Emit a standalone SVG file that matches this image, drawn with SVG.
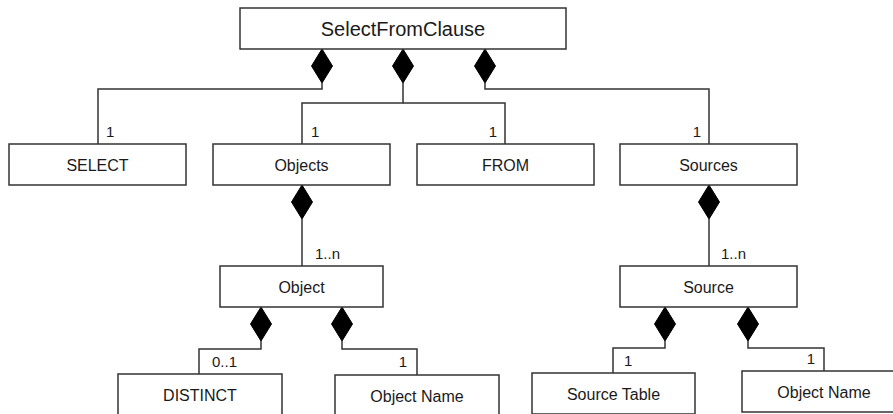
<svg xmlns="http://www.w3.org/2000/svg" width="893" height="414" viewBox="0 0 893 414">
  <style>
    .box { fill: #ffffff; stroke: #333333; stroke-width: 1.5; }
    .lbl { font-family: "Liberation Sans", Arial, sans-serif; font-size: 16px; fill: #1a1a1a; text-anchor: middle; }
    .title { font-size: 20px; }
    .mult { font-family: "Liberation Sans", Arial, sans-serif; font-size: 15px; fill: #1a1a1a; }
    .end { text-anchor: end; }
    .wire { fill: none; stroke: #333333; stroke-width: 1.5; }
    .dia { fill: #000000; stroke: #000000; stroke-width: 1; }
  </style>
  <defs>
    <!-- composition diamond, tip at origin, pointing up -->
    <path id="diamond" class="dia" d="M0,0 L10.5,17 L0,34 L-10.5,17 Z"/>
  </defs>
  <rect width="893" height="414" fill="#ffffff"/>

  <g id="connectors">
    <path class="wire" d="M322,83 V89 H98 V144"/>
    <path class="wire" d="M403,83 V103 H302 V144"/>
    <path class="wire" d="M403,103 H505 V144"/>
    <path class="wire" d="M485,83 V89 H709 V144"/>
    <path class="wire" d="M302,219 V266"/>
    <path class="wire" d="M709,219 V266"/>
    <path class="wire" d="M261,341 V349 H199 V374"/>
    <path class="wire" d="M342,341 V349 H417 V375"/>
    <path class="wire" d="M665,341 V348 H613 V373"/>
    <path class="wire" d="M748,341 V348 H824 V371"/>
    <use href="#diamond" x="322" y="49"/>
    <use href="#diamond" x="403" y="49"/>
    <use href="#diamond" x="485" y="49"/>
    <use href="#diamond" x="302" y="185"/>
    <use href="#diamond" x="709" y="185"/>
    <use href="#diamond" x="261" y="307"/>
    <use href="#diamond" x="342" y="307"/>
    <use href="#diamond" x="665" y="307"/>
    <use href="#diamond" x="748" y="307"/>
    <text class="mult" x="106" y="137">1</text>
    <text class="mult" x="311" y="137">1</text>
    <text class="mult end" x="497" y="137">1</text>
    <text class="mult end" x="701" y="137">1</text>
    <text class="mult" x="315" y="259">1..n</text>
    <text class="mult" x="721" y="259">1..n</text>
    <text class="mult" x="212" y="367">0..1</text>
    <text class="mult end" x="407" y="367">1</text>
    <text class="mult" x="624" y="366">1</text>
    <text class="mult end" x="815" y="364">1</text>
  </g>

  <g id="node-selectfromclause">
    <rect class="box" x="240" y="8" width="326" height="41"/>
    <text class="lbl title" x="403" y="36">SelectFromClause</text>
  </g>
  <g id="node-select">
    <rect class="box" x="9" y="144" width="177" height="41"/>
    <text class="lbl" x="97.5" y="171">SELECT</text>
  </g>
  <g id="node-objects">
    <rect class="box" x="213" y="144" width="177" height="41"/>
    <text class="lbl" x="301.5" y="171">Objects</text>
  </g>
  <g id="node-from">
    <rect class="box" x="417" y="144" width="177" height="41"/>
    <text class="lbl" x="505.5" y="171">FROM</text>
  </g>
  <g id="node-sources">
    <rect class="box" x="620" y="144" width="177" height="41"/>
    <text class="lbl" x="708.5" y="171">Sources</text>
  </g>
  <g id="node-object">
    <rect class="box" x="220" y="266" width="163" height="41"/>
    <text class="lbl" x="301.5" y="293">Object</text>
  </g>
  <g id="node-source">
    <rect class="box" x="620" y="266" width="177" height="41"/>
    <text class="lbl" x="708.5" y="293">Source</text>
  </g>
  <g id="node-distinct">
    <rect class="box" x="118" y="374" width="164" height="41"/>
    <text class="lbl" x="200" y="401">DISTINCT</text>
  </g>
  <g id="node-object-name">
    <rect class="box" x="335" y="375" width="164" height="41"/>
    <text class="lbl" x="417" y="402">Object Name</text>
  </g>
  <g id="node-source-table">
    <rect class="box" x="532" y="373" width="163" height="41"/>
    <text class="lbl" x="613.5" y="400">Source Table</text>
  </g>
  <g id="node-source-object-name">
    <rect class="box" x="742" y="371" width="164" height="41"/>
    <text class="lbl" x="824" y="398">Object Name</text>
  </g>
</svg>
